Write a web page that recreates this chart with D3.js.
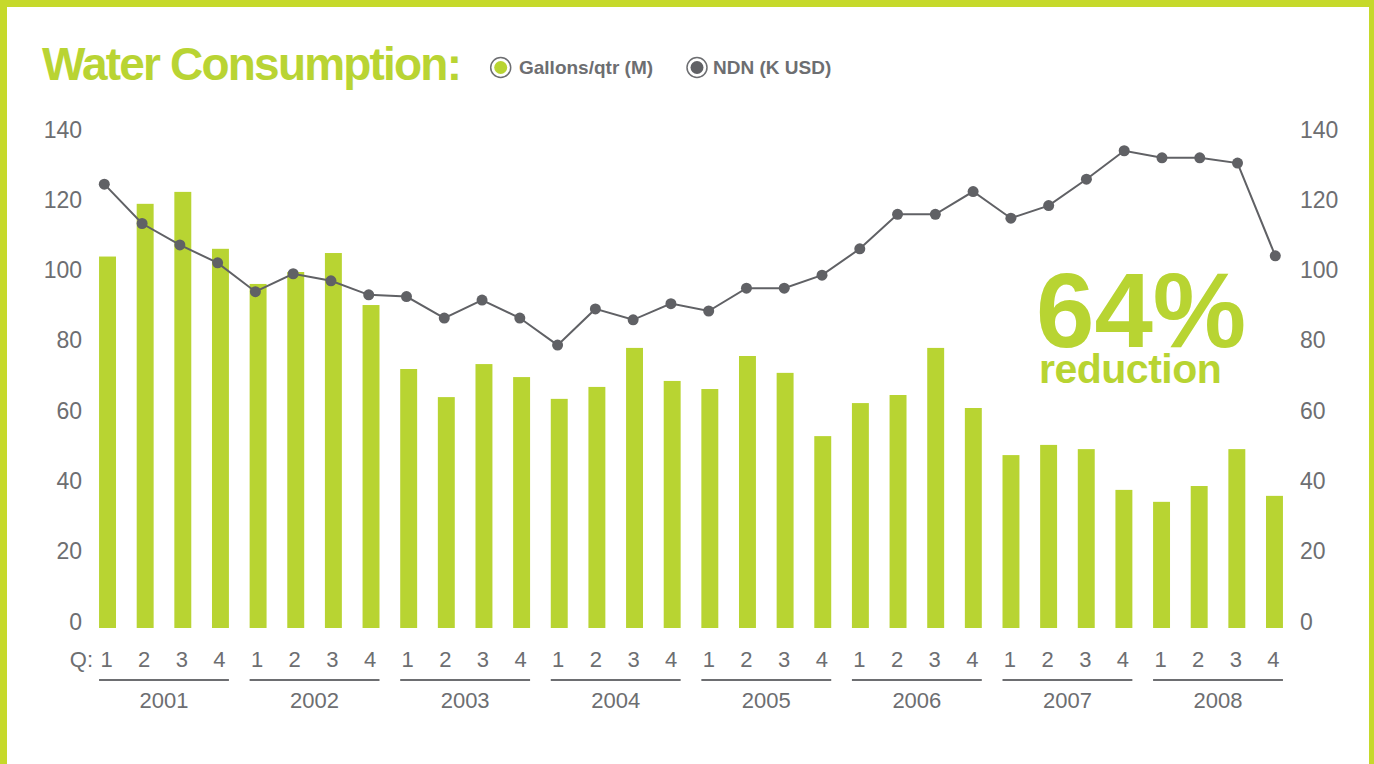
<!DOCTYPE html>
<html lang="en">
<head>
<meta charset="utf-8">
<title>Water Consumption</title>
<script src="https://cdn.jsdelivr.net/npm/d3@7/dist/d3.min.js"></script>
<style>
  body { margin:0; background:#fff; }
  svg { display:block; font-family:"Liberation Sans", Arial, Helvetica, sans-serif; }
  .tick text { fill:#6d6e71; font-size:23px; }
</style>
</head>
<body>
<div id="chart"></div>
<script>
// data
var years = ["2001","2002","2003","2004","2005","2006","2007","2008"]
var quarters = ["1","2","3","4"]
var gallons = [105.7,120.7,124.1,107.9, 97.9,101.3,106.7,91.9, 73.7,65.7,75.1,71.4, 65.2,68.6,79.7,70.3,
               68.0,77.4,72.6,54.6, 64.0,66.3,79.7,62.6, 49.2,52.1,50.9,39.3, 35.9,40.4,50.9,37.6]
var ndn = [126.3,115.1,109.0,103.9, 95.7,100.8,98.8,94.8, 94.3,88.2,93.3,88.2, 80.5,90.8,87.7,92.3,
           90.2,96.7,96.7,100.4, 107.9,117.7,117.7,124.2, 116.6,120.2,127.7,135.8, 133.8,133.8,132.3,105.9]
var yTicks = [0,20,40,60,80,100,120,140]

var lime = "#b8d432"
var gray = "#6d6e71"
var dark = "#606165"

var W = 1374, H = 764
var svg = d3.select("#chart").append("svg").attr("width",W).attr("height",H)

// frame
svg.append("rect").attr("x",0).attr("y",0).attr("width",7).attr("height",H).attr("fill","#c6d92b")
svg.append("rect").attr("x",0).attr("y",0).attr("width",W).attr("height",7).attr("fill","#c6d92b")
svg.append("rect").attr("x",1369).attr("y",0).attr("width",5).attr("height",H).attr("fill","#c6d92b")

// keys for each quarter
var keys = []
years.forEach(function(y){
  quarters.forEach(function(q){ keys.push(y+"-"+q) })
})

var x = d3.scaleBand().domain(keys).range([88.7,1293.3]).paddingInner(0.55).paddingOuter(0.275)
// the line's points sit a little off the bar centres in the original
var xp = d3.scalePoint().domain(keys).range([104.3,1275.3])
var y = d3.scaleLinear().domain([0,140]).range([628,136])

// axes
var left = svg.append("g").attr("transform","translate(82,0)")
  .call(d3.axisLeft(y).tickValues(yTicks).tickSize(0).tickPadding(0))
left.select(".domain").remove()
left.selectAll("text").attr("dy","1px")

var right = svg.append("g").attr("transform","translate(1300,0)")
  .call(d3.axisRight(y).tickValues(yTicks).tickSize(0).tickPadding(0))
right.select(".domain").remove()
right.selectAll("text").attr("dy","1px")

// bars
svg.selectAll("rect.bar")
  .data(gallons)
  .enter()
  .append("rect")
  .attr("class","bar")
  .attr("x",function(d,i){ return x(keys[i]) })
  .attr("y",function(d){ return y(d) })
  .attr("width",x.bandwidth())
  .attr("height",function(d){ return y(0)-y(d) })
  .attr("fill",lime)

// line
var line = d3.line()
  .x(function(d,i){ return xp(keys[i]) })
  .y(function(d){ return y(d) })
svg.append("path").datum(ndn).attr("d",line)
  .attr("fill","none").attr("stroke",dark).attr("stroke-width",2)
svg.selectAll("circle.pt")
  .data(ndn)
  .enter()
  .append("circle")
  .attr("class","pt")
  .attr("cx",function(d,i){ return xp(keys[i]) })
  .attr("cy",function(d){ return y(d) })
  .attr("r",5.5)
  .attr("fill",dark)

// quarter labels
svg.selectAll("text.q")
  .data(keys)
  .enter()
  .append("text")
  .attr("class","q")
  .attr("x",function(d){ return x(d)+x.bandwidth()/2 - 1 })
  .attr("y",667)
  .attr("text-anchor","middle")
  .attr("font-size",22)
  .attr("fill",gray)
  .text(function(d){ return d.split("-")[1] })
svg.append("text").attr("x",93).attr("y",667).attr("text-anchor","end")
  .attr("font-size",22).attr("fill",gray).text("Q:")

// year groups
years.forEach(function(yr){
  var x0 = x(yr+"-1"), x1 = x(yr+"-4")+x.bandwidth()
  svg.append("line").attr("x1",x0).attr("x2",x1).attr("y1",680).attr("y2",680)
    .attr("stroke",gray).attr("stroke-width",2)
  svg.append("text").attr("x",(x0+x1)/2).attr("y",708).attr("text-anchor","middle")
    .attr("font-size",22).attr("fill",gray).text(yr)
})

// title
svg.append("text").attr("x",42).attr("y",80)
  .attr("font-size",46).attr("font-weight","bold").attr("letter-spacing","-1.8px")
  .attr("fill","#b9d433").text("Water Consumption:")

// legend
var legend = [{name:"Gallons/qtr (M)", color:lime, cx:500.7, tx:519},
              {name:"NDN (K USD)", color:dark, cx:697, tx:713}]
legend.forEach(function(l){
  svg.append("circle").attr("cx",l.cx).attr("cy",67.5).attr("r",10)
    .attr("fill","#fff").attr("stroke",gray).attr("stroke-width",1.5)
  svg.append("circle").attr("cx",l.cx).attr("cy",67.5).attr("r",6.5).attr("fill",l.color)
  svg.append("text").attr("x",l.tx).attr("y",74.3)
    .attr("font-size",19).attr("font-weight","bold").attr("fill",gray).text(l.name)
})

// callout
svg.append("text").attr("x",1036).attr("y",347)
  .attr("font-size",105).attr("font-weight","bold")
  .attr("fill",lime).text("64%")
svg.append("text").attr("x",1039).attr("y",383)
  .attr("font-size",41).attr("font-weight","bold").attr("letter-spacing","-0.5px")
  .attr("fill",lime).text("reduction")
</script>
</body>
</html>
